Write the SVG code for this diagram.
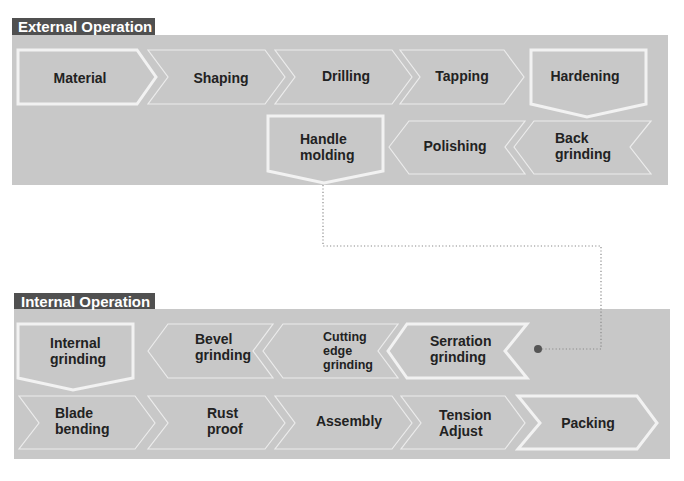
<svg xmlns="http://www.w3.org/2000/svg" width="684" height="481" viewBox="0 0 684 481">
<style>
.panel{fill:#c8c8c8}
.lab{fill:#505050}
.labt{font-family:"Liberation Sans",Arial,sans-serif;font-weight:bold;font-size:15px;fill:#ffffff}
.s{fill:#c8c8c8;stroke:#ececec;stroke-width:1.2;stroke-linejoin:miter}
.k{fill:#c8c8c8;stroke:#f2f2f2;stroke-width:3;stroke-linejoin:miter}
.t{font-family:"Liberation Sans",Arial,sans-serif;font-weight:bold;font-size:14px;fill:#222222}
.c{text-anchor:middle}
.sm{font-size:12.5px}
.dot{fill:none;stroke:#8a8a8a;stroke-width:1.2;stroke-dasharray:1.2 2.2}
</style>
<rect width="684" height="481" fill="#ffffff"/>
<g id="external-panel">
<rect class="panel" x="12" y="35" width="656" height="150"/>
<rect class="lab" x="12" y="18" width="143" height="17"/>
<text class="labt" x="18" y="32">External Operation</text>
</g>
<g id="internal-panel">
<rect class="panel" x="14" y="309" width="656" height="150"/>
<rect class="lab" x="14" y="293" width="141" height="16"/>
<text class="labt" x="21" y="307">Internal Operation</text>
</g>
<g id="connectors">
<polyline class="dot" points="323,185 323,246 601,246 601,349 540,349"/>
<circle cx="538" cy="349" r="4" fill="#555555"/>
</g>
<g id="material">
<polygon class="k" points="18,50 137,50 156,77 137,104 18,104"/>
<text class="t c" x="80" y="83">Material</text>
</g>
<g id="shaping">
<polygon class="s" points="148,50 265,50 285,77 265,104 148,104 168,77"/>
<text class="t c" x="221" y="83">Shaping</text>
</g>
<g id="drilling">
<polygon class="s" points="275,50 392,50 412,77 392,104 275,104 295,77"/>
<text class="t c" x="346" y="81">Drilling</text>
</g>
<g id="tapping">
<polygon class="s" points="400,50 504,50 524,77 504,104 400,104 420,77"/>
<text class="t c" x="462" y="81">Tapping</text>
</g>
<g id="hardening">
<polygon class="k" points="531,50 646,50 646,104 587,117 531,104"/>
<text class="t c" x="585" y="81">Hardening</text>
</g>
<g id="handle-molding">
<polygon class="k" points="268,116 383,116 383,171 324,183 268,171"/>
<text class="t" x="300" y="144">Handle</text>
<text class="t" x="300" y="160">molding</text>
</g>
<g id="polishing">
<polygon class="s" points="389,147 409,121 525,121 505,147 525,174 409,174"/>
<text class="t c" x="455" y="151">Polishing</text>
</g>
<g id="back-grinding">
<polygon class="s" points="514,147 534,121 651,121 630,147 651,174 534,174"/>
<text class="t" x="555" y="143">Back</text>
<text class="t" x="555" y="159">grinding</text>
</g>
<g id="internal-grinding">
<polygon class="k" points="18,324 133,324 133,378 73,390 18,378"/>
<text class="t" x="50" y="348">Internal</text>
<text class="t" x="50" y="364">grinding</text>
</g>
<g id="bevel-grinding">
<polygon class="s" points="148,351 168,324 273,324 253,351 273,378 168,378"/>
<text class="t" x="195" y="344">Bevel</text>
<text class="t" x="195" y="360">grinding</text>
</g>
<g id="cutting-edge-grinding">
<polygon class="s" points="263,351 283,324 398,324 378,351 398,378 283,378"/>
<text class="t sm" x="323" y="341">Cutting</text>
<text class="t sm" x="323" y="355">edge</text>
<text class="t sm" x="323" y="369">grinding</text>
</g>
<g id="serration-grinding">
<polygon class="k" points="388,351 407,324 527,324 505,351 527,378 407,378"/>
<text class="t" x="430" y="346">Serration</text>
<text class="t" x="430" y="362">grinding</text>
</g>
<g id="blade-bending">
<polygon class="s" points="19,396 135,396 155,423 135,449 19,449 39,423"/>
<text class="t" x="55" y="418">Blade</text>
<text class="t" x="55" y="434">bending</text>
</g>
<g id="rust-proof">
<polygon class="s" points="148,396 265,396 285,423 265,449 148,449 168,423"/>
<text class="t" x="207" y="418">Rust</text>
<text class="t" x="207" y="434">proof</text>
</g>
<g id="assembly">
<polygon class="s" points="275,396 392,396 412,423 392,449 275,449 295,423"/>
<text class="t c" x="349" y="426">Assembly</text>
</g>
<g id="tension-adjust">
<polygon class="s" points="401,396 505,396 525,423 505,449 401,449 421,423"/>
<text class="t" x="439" y="420">Tension</text>
<text class="t" x="439" y="436">Adjust</text>
</g>
<g id="packing">
<polygon class="k" points="518,396 637,396 657,423 637,449 518,449 540,423"/>
<text class="t c" x="588" y="428">Packing</text>
</g>
</svg>
